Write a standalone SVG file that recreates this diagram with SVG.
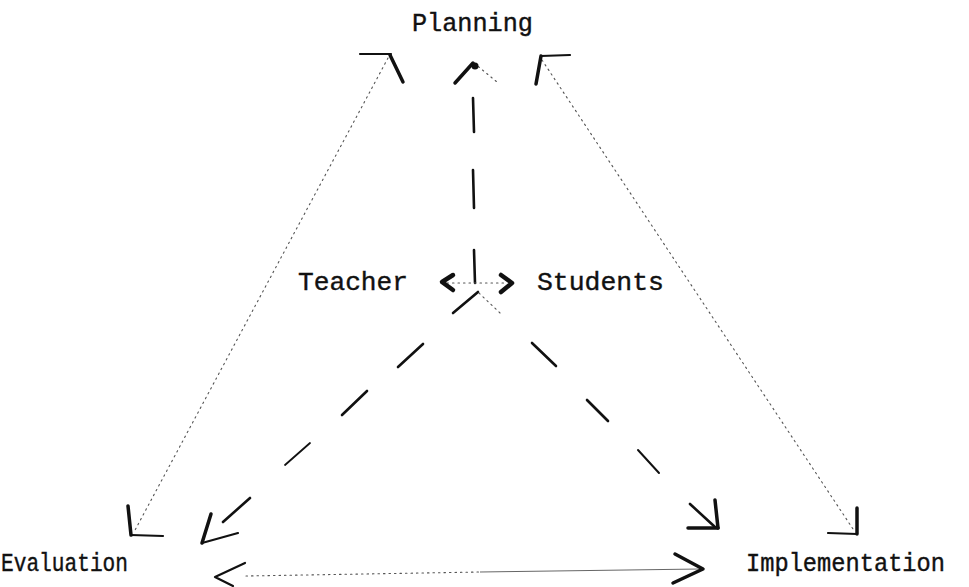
<svg xmlns="http://www.w3.org/2000/svg" width="969" height="587" viewBox="0 0 969 587">
  <style>
    .label { font-family: "Liberation Mono", "Courier New", monospace; font-size: 26px; fill: #111; stroke: #111; stroke-width: 0.4; }
    .head { fill: none; stroke: #111; stroke-width: 3.5; stroke-linecap: round; stroke-linejoin: round; }
    .head-thin { fill: none; stroke: #111; stroke-width: 2.2; stroke-linecap: round; stroke-linejoin: round; }
    .dash { fill: none; stroke: #111; stroke-width: 2.6; stroke-linecap: round; }
    .dot { fill: none; stroke: #555; stroke-width: 1.1; stroke-dasharray: 1.5 4; stroke-linecap: round; }
    .faint { fill: none; stroke: #666; stroke-width: 1; }
  </style>
  <rect width="969" height="587" fill="#fff"/>

  <!-- nodes -->
  <g id="planning"><text class="label" x="412" y="31" textLength="121" lengthAdjust="spacingAndGlyphs">Planning</text></g>
  <g id="teacher"><text class="label" x="298" y="290" textLength="110" lengthAdjust="spacingAndGlyphs">Teacher</text></g>
  <g id="students"><text class="label" x="537" y="290" textLength="127" lengthAdjust="spacingAndGlyphs">Students</text></g>
  <g id="evaluation"><text class="label" x="1" y="571" textLength="127" lengthAdjust="spacingAndGlyphs">Evaluation</text></g>
  <g id="implementation"><text class="label" x="746" y="571" textLength="199" lengthAdjust="spacingAndGlyphs">Implementation</text></g>

  <!-- connectors -->
  <g id="connectors">
    <!-- Evaluation <-> Planning -->
    <g id="evaluation-planning">
      <path class="dot" d="M 388 58 L 134 532"/>
      <path class="head-thin" d="M 360 54 L 391 54"/>
      <path class="head" d="M 390 55 L 403 82"/>
      <path class="head" d="M 128 506 L 131 535"/>
      <path class="head-thin" d="M 131 535 L 163 536"/>
    </g>
    <!-- Planning <-> Implementation -->
    <g id="planning-implementation">
      <path class="dot" d="M 542 60 L 855 532"/>
      <path class="head-thin" d="M 541 56 L 570 55"/>
      <path class="head" d="M 541 56 L 536 84"/>
      <path class="head" d="M 857 508 L 857 534"/>
      <path class="head-thin" d="M 857 534 L 828 533"/>
    </g>
    <!-- Teacher/Students -> Planning -->
    <g id="centre-planning">
      <path class="dash" d="M 473 98 L 474 132"/>
      <path class="dash" d="M 473 170 L 474 208"/>
      <path class="dash" d="M 474 250 L 475 283"/>
      <path class="head" d="M 455 83 L 473 63"/>
      <path class="dot" d="M 474 63 L 497 82"/>
      <circle cx="475" cy="66" r="3.5" fill="#111"/>
    </g>
    <!-- Teacher <-> Students -->
    <g id="teacher-students">
      <path class="dot" d="M 447 283 L 507 283"/>
      <path class="head" style="stroke-width:4.5" d="M 453 275 L 442 282 L 453 290"/>
      <path class="head" style="stroke-width:4.5" d="M 501 275 L 512 283 L 501 292"/>
    </g>
    <!-- Centre -> Evaluation -->
    <g id="centre-evaluation">
      <path class="dash" d="M 453 313 L 478 292"/>
      <path class="dash" d="M 398 367 L 423 344"/>
      <path class="dash" d="M 342 415 L 367 391"/>
      <path class="dash" style="stroke-width:1.8" d="M 285 465 L 310 443"/>
      <path class="dash" d="M 223 522 L 250 498"/>
      <path class="head" d="M 211 514 L 202 543"/>
      <path class="head-thin" d="M 202 543 L 238 533"/>
    </g>
    <!-- Centre -> Implementation -->
    <g id="centre-implementation">
      <path class="dot" d="M 479 293 L 500 313"/>
      <path class="dash" d="M 532 343 L 556 366"/>
      <path class="dash" d="M 587 400 L 608 421"/>
      <path class="dash" style="stroke-width:2" d="M 638 450 L 659 473"/>
      <path class="dash" d="M 690 504 L 715 527"/>
      <path class="head" d="M 715 500 L 718 528"/>
      <path class="head" d="M 718 528 L 688 528"/>
    </g>
    <!-- Evaluation <-> Implementation -->
    <g id="evaluation-implementation">
      <path class="dot" d="M 246 576 L 480 572"/>
      <path class="faint" d="M 480 572 L 700 569"/>
      <path class="head-thin" d="M 245 563 L 215 577 L 233 586"/>
      <path class="head" d="M 675 554 L 703 569 L 673 583"/>
    </g>
  </g>
</svg>
